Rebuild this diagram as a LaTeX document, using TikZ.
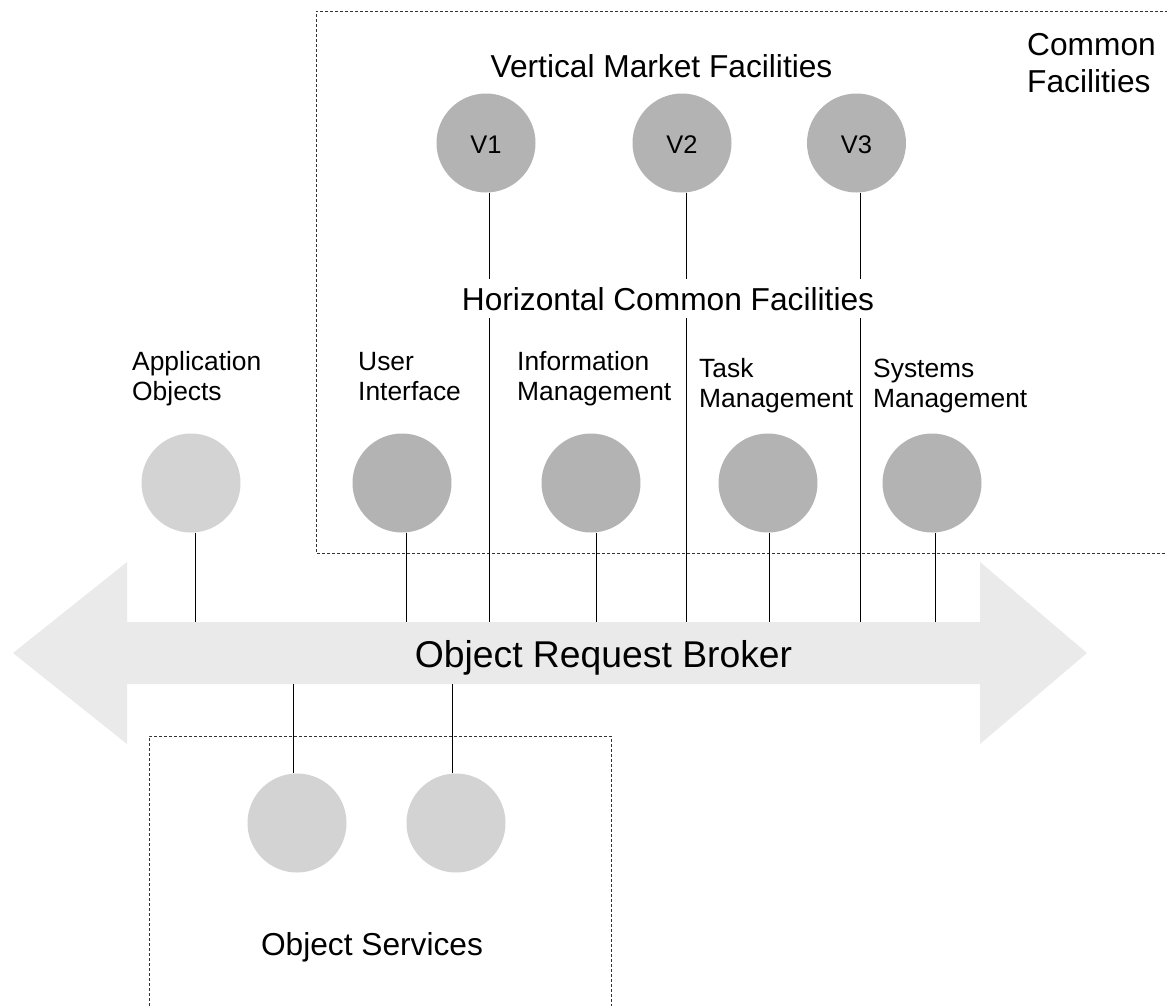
\documentclass[tikz,border=0pt]{standalone}
\usepackage{fontspec}
\setmainfont{Liberation Sans}
\definecolor{orbgray}{HTML}{EAEAEA}
\definecolor{darkcirc}{HTML}{B3B3B3}
\definecolor{lightcirc}{HTML}{D3D3D3}
\definecolor{boxline}{HTML}{333333}
\begin{document}
\begin{tikzpicture}[x=1pt,y=-1pt,
  dcirc/.style={circle,fill=darkcirc,minimum size=99pt,inner sep=0pt,font=\fontsize{25.5}{30}\selectfont,text height=21.6pt,text depth=0pt},
  lcirc/.style={circle,fill=lightcirc,minimum size=99pt,inner sep=0pt},
  link/.style={line width=1pt,black},
  group/.style={draw=boxline,line width=0.9pt,dash pattern=on 3pt off 2pt},
  lbl/.style={anchor=base west,align=left,inner sep=0pt,font=\fontsize{26.4}{30}\selectfont},
  head/.style={inner sep=0pt,font=\fontsize{31.7}{36.5}\selectfont}]
\useasboundingbox (0,0) rectangle (1167,1005);
% ORB double arrow
\fill[orbgray] (13,653) -- (127,562) -- (127,622) -- (980,622) -- (980,562) -- (1087,653)
  -- (980,744) -- (980,684) -- (127,684) -- (127,744) -- cycle;
% group boxes
\draw[group] (1168,11) -- (316,11) -- (316,553) -- (1168,553);
\draw[group] (149,1006) -- (149,736) -- (611,736) -- (611,1006);
% shaft attachment points
\coordinate (sApp) at (195,622);
\coordinate (sUI) at (406,622);
\coordinate (sV1) at (489,622);
\coordinate (sIM) at (596,622);
\coordinate (sV2) at (686,622);
\coordinate (sTM) at (769,622);
\coordinate (sV3) at (860,622);
\coordinate (sSM) at (935,622);
\coordinate (sOS1) at (293,684);
\coordinate (sOS2) at (452,684);
% circles
\node[dcirc] (v1) at (486,143) {V1};
\node[dcirc] (v2) at (682,143) {V2};
\node[dcirc] (v3) at (856.5,143) {V3};
\node[lcirc] (app) at (191,483) {};
\node[dcirc] (ui) at (402,483) {};
\node[dcirc] (im) at (591,483) {};
\node[dcirc] (tm) at (768,483) {};
\node[dcirc] (sm) at (932,483) {};
\node[lcirc] (os1) at (297,823) {};
\node[lcirc] (os2) at (456,823) {};
% connectors
\draw[link] ([xshift=4pt]app.south) -- (sApp);
\draw[link] ([xshift=4pt]ui.south) -- (sUI);
\draw[link] ([xshift=5pt]im.south) -- (sIM);
\draw[link] ([xshift=1pt]tm.south) -- (sTM);
\draw[link] ([xshift=3pt]sm.south) -- (sSM);
\draw[link] ([xshift=3pt]v1.south) -- (sV1);
\draw[link] ([xshift=4pt]v2.south) -- (sV2);
\draw[link] ([xshift=3.5pt]v3.south) -- (sV3);
\draw[link] ([xshift=-4pt]os1.north) -- (sOS1);
\draw[link] ([xshift=-4pt]os2.north) -- (sOS2);
% texts (multi-line nodes: base anchor is the last line)
\node[head,anchor=base] (vmf) at (661.5,77) {Vertical Market Facilities};
\node[head,anchor=base west,align=left] (cf) at (1027,92) {Common\\Facilities};
\node[head,anchor=base,fill=white,inner ysep=8pt] (hcf) at (668,310) {Horizontal Common Facilities};
\node[lbl] (appl) at (132,400) {Application\\Objects};
\node[lbl] (uil) at (358,400) {User\\Interface};
\node[lbl] (iml) at (517,400) {Information\\Management};
\node[lbl] (tml) at (699,407) {Task\\Management};
\node[lbl] (sml) at (873,407) {Systems\\Management};
\node[inner sep=0pt,font=\fontsize{37.3}{42}\selectfont,anchor=base] (orb) at (603.5,667) {Object Request Broker};
\node[head,anchor=base] (os) at (372,955) {Object Services};
\end{tikzpicture}
\end{document}
